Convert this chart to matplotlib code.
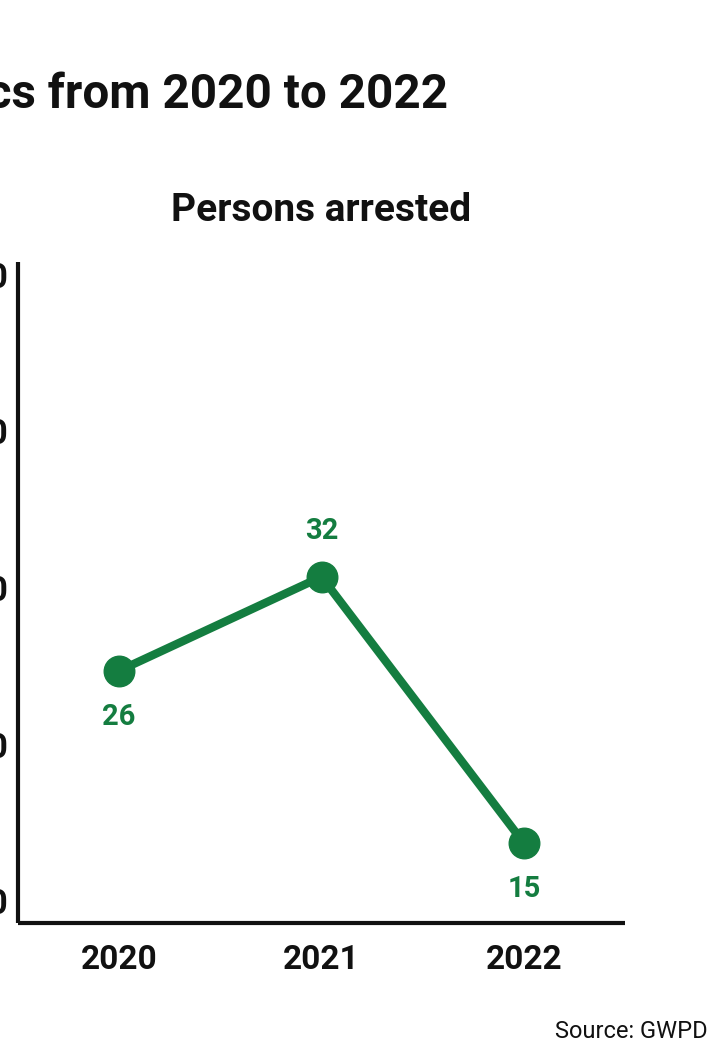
import matplotlib
matplotlib.use("Agg")
import matplotlib.pyplot as plt

years = ["2020", "2021", "2022"]
arrested = [26, 32, 15]
label_pos = ["below", "above", "below"]
yticks = [10, 20, 30, 40, 50]

title_text = "Crime statistics from 2020 to 2022"
subtitle = "Persons arrested"
source = "Source: GWPD"

GREEN = "#147d40"
INK = "#111111"
W, H = 723, 1060
fig = plt.figure(figsize=(W / 100, H / 100), dpi=100)
font = "Roboto"


def fx(px):
    return px / W


def fy(py):
    return 1 - py / H


ax = fig.add_axes([fx(18), fy(923), fx(625) - fx(18), fy(262) - fy(923)])
x = list(range(len(years)))
ax.plot(x, arrested, color=GREEN, lw=6, marker="o", ms=22,
        solid_capstyle="round", zorder=3, clip_on=False)
for xi, v, pos in zip(x, arrested, label_pos):
    off = -46 if pos == "below" else 46
    ax.annotate(str(v), (xi, v), xytext=(0, off * 0.72), textcoords="offset points",
                ha="center", va="center", color=GREEN, fontsize=21, family=font,
                fontweight="bold")

ax.set_xlim(-0.5, 2.5)
ax.set_ylim(9.89, 52.1)
ax.set_xticks(x)
ax.set_xticklabels(years, fontsize=24, fontweight="bold", family=font, color=INK)
ax.set_yticks(yticks)
ax.set_yticklabels([str(t) for t in yticks], fontsize=25, fontweight="bold",
                   family=font, color=INK)
for lab in ax.get_yticklabels():
    lab.set_va("bottom")
ax.tick_params(axis="both", length=0)
ax.tick_params(axis="x", pad=15)
ax.tick_params(axis="y", pad=7)
for s in ["top", "right"]:
    ax.spines[s].set_visible(False)
for s in ["left", "bottom"]:
    ax.spines[s].set_linewidth(3)
    ax.spines[s].set_color(INK)
    ax.spines[s].set_capstyle("butt")

fig.text(fx(448), fy(95), title_text, ha="right", va="center", fontsize=34.3,
         fontweight="bold", family=font, color=INK)
fig.text(fx(321), fy(210), subtitle, ha="center", va="center", fontsize=28,
         fontweight="bold", family=font, color=INK)
fig.text(fx(708), fy(1031), source, ha="right", va="center", fontsize=17,
         family=font, color=INK)

fig.savefig("out.png", dpi=100, facecolor="white")
